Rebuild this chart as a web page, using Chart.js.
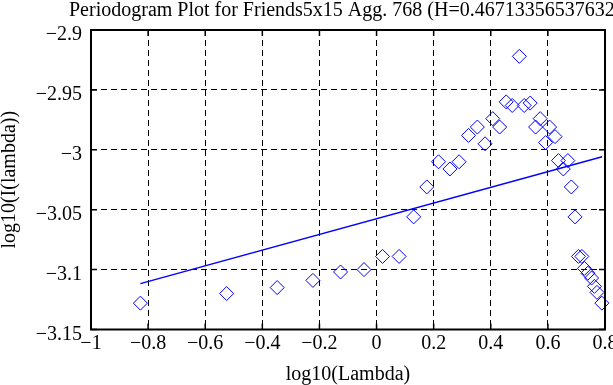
<!DOCTYPE html>
<html>
<head>
<meta charset="utf-8">
<script src="https://cdn.jsdelivr.net/npm/chart.js@4/dist/chart.umd.min.js"></script>
<style>
  body { margin: 0; background: #fff; }
  #wrap { width: 613px; height: 385px; }
</style>
</head>
<body>
<div id="wrap"><canvas id="grafico" width="613" height="385"></canvas></div>
<script>
// DADOS
var titulo = 'Periodogram Plot for Friends5x15 Agg. 768 (H=0.467133565376324)';
var logLambda = [-0.827, -0.525, -0.348, -0.223, -0.126, -0.044, 0.021, 0.079, 0.130, 0.176,
    0.217, 0.257, 0.289, 0.322, 0.353, 0.380, 0.407, 0.431, 0.454, 0.475,
    0.500, 0.517, 0.538, 0.557, 0.573, 0.592, 0.606, 0.625, 0.637, 0.654,
    0.670, 0.682, 0.695, 0.707, 0.719, 0.728, 0.740, 0.753, 0.763, 0.772, 0.789];
var logI = [-3.128, -3.120, -3.115, -3.109, -3.102, -3.100, -3.089, -3.089, -3.056, -3.031,
    -3.010, -3.016, -3.010, -2.988, -2.981, -2.995, -2.974, -2.981, -2.960, -2.963,
    -2.922, -2.963, -2.961, -2.981, -2.974, -2.994, -2.981, -2.989, -3.009, -3.016,
    -3.009, -3.031, -3.056, -3.089, -3.089, -3.099, -3.103, -3.107, -3.114, -3.119, -3.128];
var ajusteX = [-0.827, 0.790];
var ajusteY = [-3.1117, -3.0058];
var ticksX = [-1, -0.8, -0.6, -0.4, -0.2, 0, 0.2, 0.4, 0.6, 0.8];
var ticksY = [-3.15, -3.1, -3.05, -3, -2.95, -2.9];

var fonte = '"Liberation Serif", "Times New Roman", serif';

function rotulo(v) {
    return String(v).replace('-', '\u2212');
}

function pontos(xs, ys) {
    return xs.map(function(x, i) { return { x: x, y: ys[i] }; });
}

// moldura, marcas internas e titulo
var moldura = {
    id: 'moldura',
    afterDraw: function(chart) {
        var ctx = chart.ctx;
        var a = chart.chartArea;
        var sx = chart.scales.x;
        var sy = chart.scales.y;
        ctx.save();
        ctx.strokeStyle = '#000';
        ctx.lineWidth = 1.5;
        ctx.beginPath();
        ticksX.forEach(function(v) {
            var px = sx.getPixelForValue(v);
            ctx.moveTo(px, a.bottom); ctx.lineTo(px, a.bottom - 6);
            ctx.moveTo(px, a.top); ctx.lineTo(px, a.top + 6);
        });
        ticksY.forEach(function(v) {
            var py = sy.getPixelForValue(v);
            ctx.moveTo(a.left, py); ctx.lineTo(a.left + 6, py);
            ctx.moveTo(a.right, py); ctx.lineTo(a.right - 6, py);
        });
        ctx.stroke();
        ctx.lineWidth = 2;
        ctx.strokeRect(a.left, a.top, a.right - a.left, a.bottom - a.top);
        ctx.fillStyle = '#000';
        ctx.font = '20px ' + fonte;
        ctx.textAlign = 'left';
        ctx.textBaseline = 'alphabetic';
        ctx.fillText(titulo, 69, 16);
        ctx.restore();
    }
};

var graficoCtx = document.getElementById('grafico').getContext('2d');

var grafico = new Chart(graficoCtx, {
    type: 'scatter',
    data: {
        datasets: [{
            label: 'Periodogram',
            data: pontos(logLambda, logI),
            pointStyle: 'rectRot',
            pointRadius: 7,
            pointHoverRadius: 7,
            borderColor: '#0000ff',
            backgroundColor: 'rgba(0,0,0,0)',
            borderWidth: 1,
            clip: false
        }, {
            label: 'Fit',
            type: 'line',
            data: pontos(ajusteX, ajusteY),
            borderColor: '#0000ff',
            borderWidth: 1.5,
            pointRadius: 0,
            fill: false,
            showLine: true
        }]
    },
    options: {
        responsive: false,
        animation: false,
        events: [],
        layout: {
            padding: { top: 30, right: 5, left: 0, bottom: 0 }
        },
        plugins: {
            legend: { display: false },
            title: { display: false },
            tooltip: { enabled: false }
        },
        scales: {
            x: {
                type: 'linear',
                min: -1,
                max: 0.8,
                afterBuildTicks: function(s) {
                    s.ticks = ticksX.map(function(v) { return { value: v }; });
                },
                afterFit: function(s) {
                    s.height = 55.5;
                    s.paddingLeft = 0;
                    s.paddingRight = 0;
                },
                grid: {
                    color: '#000',
                    lineWidth: 1,
                    drawTicks: false
                },
                border: { display: false, dash: [6, 4] },
                ticks: {
                    color: '#000',
                    font: { family: fonte, size: 20, lineHeight: 1 },
                    padding: 4,
                    maxRotation: 0,
                    autoSkip: false,
                    callback: function(v) { return rotulo(v); }
                },
                title: {
                    display: true,
                    text: 'log10(Lambda)',
                    color: '#000',
                    font: { family: fonte, size: 20, lineHeight: 1 },
                    padding: 0
                }
            },
            y: {
                type: 'linear',
                min: -3.15,
                max: -2.9,
                afterBuildTicks: function(s) {
                    s.ticks = ticksY.map(function(v) { return { value: v }; });
                },
                afterFit: function(s) {
                    s.width = 91;
                    s.paddingTop = 0;
                    s.paddingBottom = 0;
                },
                grid: {
                    color: '#000',
                    lineWidth: 1,
                    drawTicks: false
                },
                border: { display: false, dash: [6, 4] },
                ticks: {
                    color: '#000',
                    font: { family: fonte, size: 20, lineHeight: 1 },
                    padding: 9,
                    labelOffset: 5,
                    autoSkip: false,
                    callback: function(v) { return rotulo(v); }
                },
                title: {
                    display: true,
                    text: 'log10(I(lambda))',
                    color: '#000',
                    font: { family: fonte, size: 20, lineHeight: 1 },
                    padding: 0
                }
            }
        }
    },
    plugins: [moldura]
});
</script>
</body>
</html>
